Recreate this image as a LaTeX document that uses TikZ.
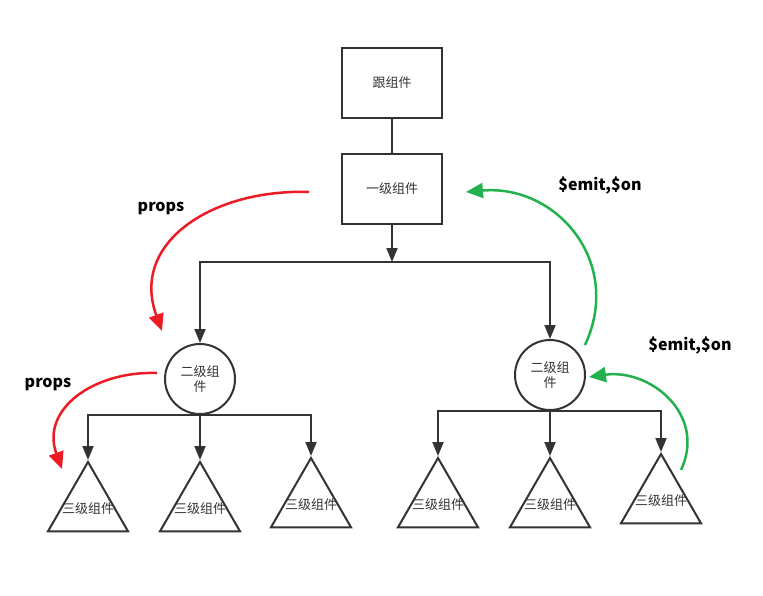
\documentclass[tikz,border=0pt]{standalone}
\usepackage{fontspec}
\newfontfamily\cjk{Noto Sans CJK SC}
\usetikzlibrary{arrows.meta,shapes.geometric}
\definecolor{ink}{HTML}{333333}
\definecolor{propred}{HTML}{ED1C24}
\definecolor{emitgreen}{HTML}{22B14C}

\begin{document}
\begin{tikzpicture}[x=1pt, y=-1pt,
  comp/.style={draw=ink, line width=2pt, text=ink, font=\cjk\fontsize{13}{15.5}\selectfont},
  box/.style={comp, rectangle, minimum width=100pt, minimum height=70pt},
  ball/.style={comp, circle, minimum size=70pt, inner sep=0pt, align=center},
  tri/.style={comp, regular polygon, regular polygon sides=3, minimum size=92.4pt, inner sep=0pt,
    label={[text=ink, font=\cjk\fontsize{13}{15.5}\selectfont]center:三级组件}},
  tree/.style={draw=ink, line width=2pt, -{Triangle[length=14pt,width=11pt]}},
  flow/.style={line width=2.5pt, -{Triangle[length=17pt,width=15pt]}},
  tag/.style={font=\cjk\bfseries\fontsize{16}{18}\selectfont, text=black}]
  \useasboundingbox (0,0) rectangle (763,595);

  % root and first level
  \node[box] (root) at (392,83) {跟组件};
  \node[box] (lvlone) at (392,189) {一级组件};
  \coordinate (bus) at (392,262);

  % second level
  \node[ball] (twoL) at (200,379) {二级组\\件};
  \node[ball] (twoR) at (550,375) {二级组\\件};

  % third level
  \node[tri] (threeLa) at (88,508.2) {};
  \node[tri] (threeLb) at (200,508.2) {};
  \node[tri] (threeLc) at (311,504.2) {};
  \node[tri] (threeRa) at (438,504.2) {};
  \node[tri] (threeRb) at (550,504.2) {};
  \node[tri] (threeRc) at (661,500.2) {};

  % tree links
  \draw[draw=ink, line width=2pt] (root) -- (lvlone);
  \draw[tree] (lvlone) -- (bus);
  \draw[tree] (bus) -| (twoL);
  \draw[tree] (bus) -| (twoR);
  \draw[tree] (twoL.south) -| (threeLa);
  \draw[tree] (twoL.south) -- (threeLb);
  \draw[tree] (twoL.south) -| (threeLc);
  \draw[tree] (twoR.south) -| (threeRa);
  \draw[tree] (twoR.south) -- (threeRb);
  \draw[tree] (twoR.south) -| (threeRc);

  % props going down
  \coordinate (downA) at (309,192);
  \coordinate (downAend) at (162,331);
  \coordinate (downB) at (157,373);
  \coordinate (downBend) at (62,469);
  \draw[flow, draw=propred] (downA) to[out=178, in=110, looseness=1.2] (downAend);
  \draw[flow, draw=propred] (downB) to[out=178, in=110, looseness=1.2] (downBend);
  \node[tag] (propsA) at (161,208) {props};
  \node[tag] (propsB) at (48,384) {props};

  % events going up
  \coordinate (upA) at (585,345);
  \coordinate (upAend) at (466,192);
  \coordinate (upB) at (681,470);
  \coordinate (upBend) at (589,377);
  \draw[flow, draw=emitgreen] (upA) to[out=65, in=5, looseness=1.2] (upAend);
  \draw[flow, draw=emitgreen] (upB) to[out=65, in=8, looseness=1.2] (upBend);
  \node[tag] (emitA) at (600,185) {\$emit,\$on};
  \node[tag] (emitB) at (690,345) {\$emit,\$on};
\end{tikzpicture}
\end{document}
